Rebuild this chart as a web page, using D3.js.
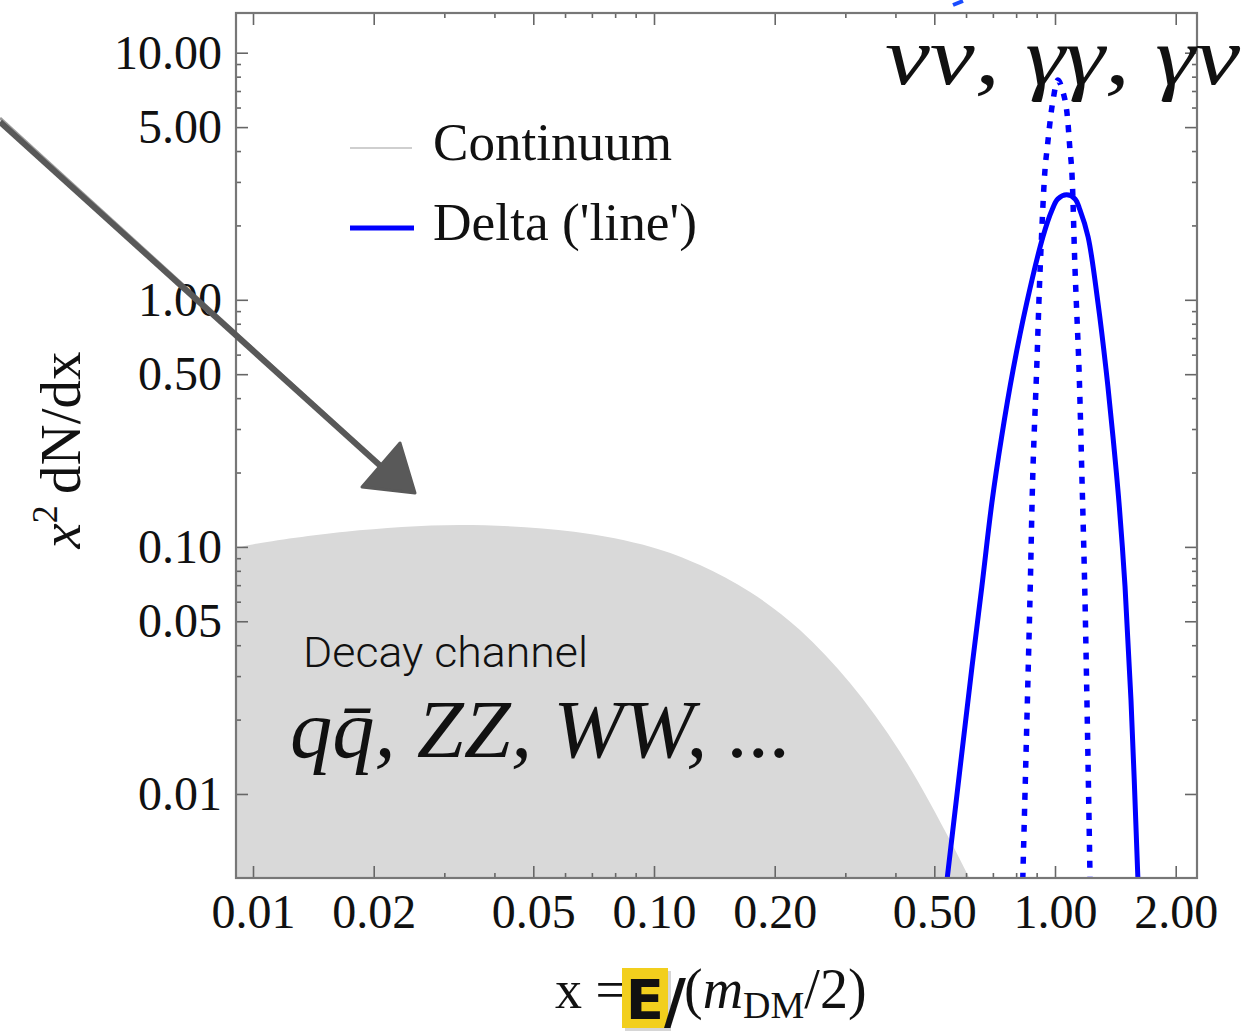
<!DOCTYPE html>
<meta charset="utf-8">
<head>
  <title>Continuum vs line spectrum</title>
</head>

<style>
body {
  margin: 0;
  background: #fff;
}
svg text {
  font-family: "Liberation Serif", "Times New Roman", serif;
  fill: #111;
}
</style>

<body>
  <svg id="chart" width="1245" height="1035"></svg>

  <script src="https://cdnjs.cloudflare.com/ajax/libs/d3/7.8.5/d3.min.js"></script>

  <script>
// continuum (grey filled) spectrum
var contX = [0.00907, 0.0098, 0.0170, 0.0328, 0.0632, 0.0983, 0.1302, 0.1736, 0.2312, 0.3082, 0.4108, 0.5474, 0.6318];
var contY = [0.0985, 0.1018, 0.1152, 0.1226, 0.1152, 0.1000, 0.0845, 0.0657, 0.0461, 0.0281, 0.0148, 0.0065, 0.0041];

// delta line, smeared (solid blue)
var lineX = [0.538, 0.621, 0.657, 0.696, 0.736, 0.786, 0.850, 0.933, 0.983, 1.017, 1.069, 1.122, 1.154, 1.209, 1.280, 1.341, 1.395, 1.444, 1.495, 1.547, 1.610];
var lineY = [0.0045, 0.0328, 0.069, 0.151, 0.279, 0.520, 0.970, 1.80, 2.31, 2.56, 2.66, 2.56, 2.31, 1.80, 0.970, 0.520, 0.279, 0.151, 0.069, 0.024, 0.0045];

// delta line, narrow (dotted blue)
var narrowX = [0.831, 0.866, 0.881, 0.900, 0.918, 0.944, 0.955, 0.989, 1.017, 1.059, 1.090, 1.101, 1.122, 1.148, 1.166, 1.188, 1.223];
var narrowY = [0.0045, 0.061, 0.205, 0.520, 1.32, 3.35, 4.04, 6.44, 7.75, 6.44, 4.04, 3.35, 1.32, 0.520, 0.205, 0.061, 0.0045];

// ticks
var xMajor = [0.01, 0.02, 0.05, 0.1, 0.2, 0.5, 1, 2];
var xMinor = [0.03, 0.04, 0.06, 0.07, 0.08, 0.09, 0.3, 0.4, 0.6, 0.7, 0.8, 0.9];
var yMajor = [0.01, 0.05, 0.1, 0.5, 1, 5, 10];
var yMinor = [0.02, 0.03, 0.04, 0.06, 0.07, 0.08, 0.09,
              0.2, 0.3, 0.4, 0.6, 0.7, 0.8, 0.9,
              2, 3, 4, 6, 7, 8, 9];

var legendLabels = ['Continuum', "Delta ('line')"];

var pL = 236, pT = 13, pR = 1197, pB = 878;

var svg = d3.select('#chart');

var x = d3.scaleLog().domain([0.00907, 2.26]).range([pL, pR]);
var y = d3.scaleLog().domain([0.00457, 14.48]).range([pB, pT]);

svg.append('defs').append('clipPath')
  .attr('id', 'plot')
  .append('rect')
  .attr('x', pL).attr('y', pT)
  .attr('width', pR - pL).attr('height', pB - pT);

var plot = svg.append('g').attr('clip-path', 'url(#plot)');

// grey continuum
var contData = contX.map(function(d, i) { return [d, contY[i]]; });
plot.append('path')
  .datum(contData)
  .attr('fill', '#d9d9d9')
  .attr('d', d3.area()
    .x(function(d) { return x(d[0]); })
    .y0(pB)
    .y1(function(d) { return y(d[1]); })
    .curve(d3.curveCatmullRom.alpha(0.5)));

var line = d3.line()
  .x(function(d) { return x(d[0]); })
  .y(function(d) { return y(d[1]); })
  .curve(d3.curveCatmullRom.alpha(0.5));

plot.append('path')
  .datum(narrowX.map(function(d, i) { return [d, narrowY[i]]; }))
  .attr('fill', 'none')
  .attr('stroke', '#0000ff')
  .attr('stroke-width', 5.5)
  .attr('stroke-dasharray', '7,9')
  .attr('d', line);

plot.append('path')
  .datum(lineX.map(function(d, i) { return [d, lineY[i]]; }))
  .attr('fill', 'none')
  .attr('stroke', '#0000ff')
  .attr('stroke-width', 5)
  .attr('d', line);

// axes: ticks inside the frame on all four sides
function styleAxis(g) {
  g.select('.domain').remove();
  g.selectAll('line').attr('stroke', '#666').attr('stroke-width', 1.6);
  g.selectAll('text')
    .style('font-family', '"Liberation Serif", "Times New Roman", serif')
    .style('font-size', '48px')
    .attr('fill', '#111');
}

var fmt = d3.format('.2f');

svg.append('g')
  .attr('transform', 'translate(0,' + pB + ')')
  .call(d3.axisBottom(x).tickValues(xMajor).tickFormat(fmt).tickSize(-12).tickPadding(16))
  .call(styleAxis);
svg.append('g')
  .attr('transform', 'translate(0,' + pB + ')')
  .call(d3.axisBottom(x).tickValues(xMinor).tickFormat('').tickSize(-5))
  .call(styleAxis);
svg.append('g')
  .attr('transform', 'translate(0,' + pT + ')')
  .call(d3.axisTop(x).tickValues(xMajor).tickFormat('').tickSize(-12))
  .call(styleAxis);
svg.append('g')
  .attr('transform', 'translate(0,' + pT + ')')
  .call(d3.axisTop(x).tickValues(xMinor).tickFormat('').tickSize(-5))
  .call(styleAxis);

svg.append('g')
  .attr('transform', 'translate(' + pL + ',0)')
  .call(d3.axisLeft(y).tickValues(yMajor).tickFormat(fmt).tickSize(-12).tickPadding(14))
  .call(styleAxis);
svg.append('g')
  .attr('transform', 'translate(' + pL + ',0)')
  .call(d3.axisLeft(y).tickValues(yMinor).tickFormat('').tickSize(-5))
  .call(styleAxis);
svg.append('g')
  .attr('transform', 'translate(' + pR + ',0)')
  .call(d3.axisRight(y).tickValues(yMajor).tickFormat('').tickSize(-12))
  .call(styleAxis);
svg.append('g')
  .attr('transform', 'translate(' + pR + ',0)')
  .call(d3.axisRight(y).tickValues(yMinor).tickFormat('').tickSize(-5))
  .call(styleAxis);

svg.append('rect')
  .attr('x', pL).attr('y', pT)
  .attr('width', pR - pL).attr('height', pB - pT)
  .attr('fill', 'none')
  .attr('stroke', '#777')
  .attr('stroke-width', 2.2);

// legend
var legend = svg.append('g');
legend.append('line')
  .attr('x1', 350).attr('x2', 412).attr('y1', 148).attr('y2', 148)
  .attr('stroke', '#cfcfcf').attr('stroke-width', 2);
legend.append('line')
  .attr('x1', 350).attr('x2', 414).attr('y1', 228).attr('y2', 228)
  .attr('stroke', '#0000ff').attr('stroke-width', 5);
legend.selectAll('text.lab')
  .data(legendLabels)
  .enter().append('text')
  .attr('class', 'lab')
  .attr('x', 433)
  .attr('y', function(d, i) { return 160 + i * 80; })
  .attr('textLength', function(d, i) { return i ? 264 : 239; })
  .attr('lengthAdjust', 'spacingAndGlyphs')
  .style('font-size', '52px')
  .text(function(d) { return d; });

// y title
var yt = svg.append('text')
  .attr('transform', 'translate(80,450) rotate(-90)')
  .attr('text-anchor', 'middle')
  .style('font-size', '57px');
yt.append('tspan').style('font-style', 'italic').text('x');
yt.append('tspan').attr('dy', -23).style('font-size', '36px').text('2');
yt.append('tspan').attr('dy', 23).text('\u2009dN/dx');

// x title
svg.append('text')
  .attr('x', 555).attr('y', 1008)
  .style('font-size', '54px')
  .text('x =');
svg.append('rect')
  .attr('x', 625).attr('y', 971)
  .attr('width', 46).attr('height', 60)
  .attr('fill', '#bbb').attr('opacity', 0.6);
svg.append('rect')
  .attr('x', 622).attr('y', 968)
  .attr('width', 46).attr('height', 60)
  .attr('fill', '#f2cf1d');
svg.append('text')
  .attr('x', 645).attr('y', 1019)
  .attr('text-anchor', 'middle')
  .style('font-family', '"Comic Sans MS", "DejaVu Sans", sans-serif')
  .style('font-weight', 'bold')
  .style('font-size', '56px')
  .text('E');
svg.append('text')
  .attr('x', 664).attr('y', 1022)
  .style('font-family', '"DejaVu Sans", sans-serif')
  .style('font-weight', 'bold')
  .style('font-size', '60px')
  .text('/');
var xt = svg.append('text')
  .attr('x', 684).attr('y', 1008)
  .style('font-size', '56px');
xt.append('tspan').text('(');
xt.append('tspan').style('font-style', 'italic').text('m');
xt.append('tspan').attr('dy', 10).style('font-size', '38px').text('DM');
xt.append('tspan').attr('dy', -10).text('/2)');

// annotations
svg.append('text')
  .attr('x', 885).attr('y', 84)
  .attr('textLength', 355)
  .attr('lengthAdjust', 'spacingAndGlyphs')
  .style('font-style', 'italic')
  .style('font-size', '82px')
  .attr('fill', '#1a1a1a')
  .text('\u03bd\u03bd, \u03b3\u03b3, \u03b3\u03bd');

svg.append('text')
  .attr('x', 303).attr('y', 667)
  .attr('textLength', 285)
  .attr('lengthAdjust', 'spacingAndGlyphs')
  .style('font-family', 'Roboto, "Liberation Sans", sans-serif')
  .style('font-weight', 300)
  .style('font-size', '43px')
  .text('Decay channel');

svg.append('text')
  .attr('x', 290).attr('y', 757)
  .attr('textLength', 502)
  .attr('lengthAdjust', 'spacingAndGlyphs')
  .style('font-style', 'italic')
  .style('font-size', '82px')
  .attr('fill', '#222')
  .text('qq\u0304, ZZ, WW, ...');

// hand-drawn arrow
var arrow = svg.append('g').attr('fill', '#595959').attr('stroke', '#595959');
arrow.append('path')
  .attr('d', 'M0,122 L385,470')
  .attr('stroke-width', 6)
  .attr('fill', 'none');
arrow.append('path')
  .attr('d', 'M0,118 L383,467')
  .attr('stroke-width', 3)
  .attr('opacity', 0.6)
  .attr('fill', 'none');
arrow.append('path')
  .attr('d', 'M362,487 L400,443 L415,493 Z')
  .attr('stroke-width', 3)
  .attr('stroke-linejoin', 'round');

// small blue mark at the top edge
svg.append('path')
  .attr('d', 'M953,5 L963,1')
  .attr('stroke', '#1a4cff')
  .attr('stroke-width', 4)
  .attr('fill', 'none');
  </script>
</body>
</html>
